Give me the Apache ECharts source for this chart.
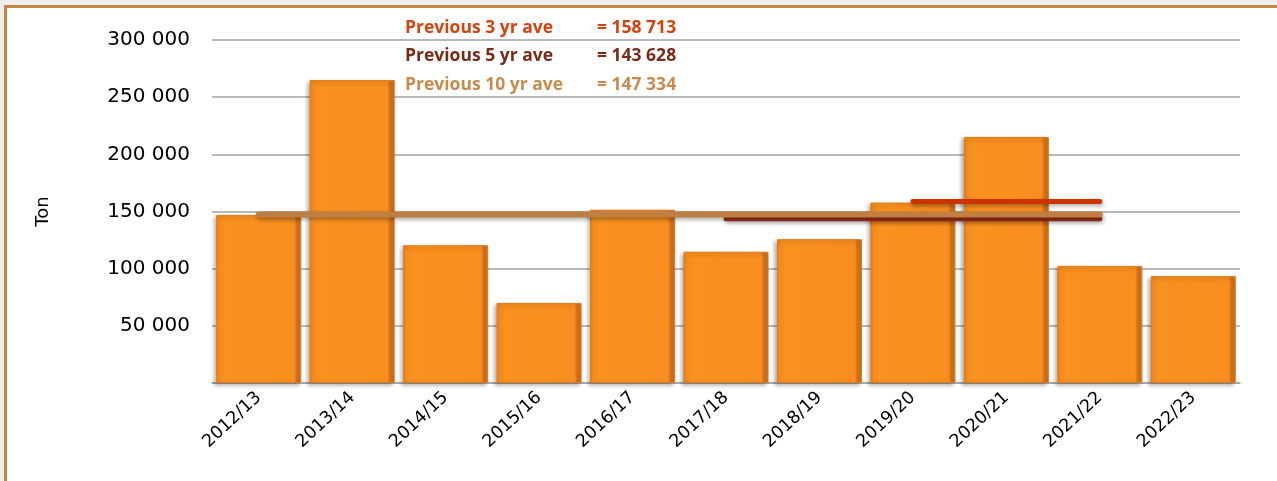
<!DOCTYPE html>
<html>
<head>
<meta charset="utf-8">
<script src="https://cdn.jsdelivr.net/npm/echarts@6/dist/echarts.min.js"></script>
<style>
  html, body { margin: 0; padding: 0; background: #f1efed; overflow: hidden; }
  #frame {
    position: absolute; left: 4px; top: 5px; width: 1300px; height: 500px;
    border-left: 3px solid #c8874a; border-top: 3px solid #c8874a; background: #fff;
  }
  #main { position: absolute; left: 0; top: 0; width: 1277px; height: 481px; }
</style>
</head>
<body>
<div id="frame"></div>
<div id="main"></div>
<script>
// seasons and tonnage
var seasons = ['2012/13', '2013/14', '2014/15', '2015/16', '2016/17', '2017/18',
               '2018/19', '2019/20', '2020/21', '2021/22', '2022/23'];
var tonnes = [147000, 265000, 120500, 70000, 151500, 114800, 125800, 157800, 215200, 102400, 93500];

// averages over the previous seasons (3, 5 and 10 years before 2022/23)
var aveNames = ['Previous 3 yr ave', 'Previous 5 yr ave', 'Previous 10 yr ave'];
var aveValues = [158713, 143628, 147334];
var aveYears = [3, 5, 10];
var aveColors = ['#d6420e', '#7a2b18', '#c98a4c'];
var aveLineColors = ['#cc3300', '#9c2c16', '#bf7f42'];

function spaced(v) {
  return String(v).replace(/\B(?=(\d{3})+(?!\d))/g, ' ');
}

// a line spans the last n seasons before the current one
function aveLine(i) {
  var last = seasons.length - 2;
  return seasons.map(function (s, k) {
    return (k <= last && k > last - aveYears[i]) ? aveValues[i] : null;
  });
}

var myChart = echarts.init(document.getElementById('main'));

var legendText = [];
aveNames.forEach(function (n, i) {
  var top = 19 + i * 28.5;
  legendText.push({
    type: 'text', left: 405, top: top,
    style: { text: n, fill: aveColors[i], font: 'bold 17.5px "Open Sans"' }
  });
  legendText.push({
    type: 'text', left: 597, top: top,
    style: { text: '= ' + spaced(aveValues[i]), fill: aveColors[i], font: 'bold 17.5px "Open Sans"' }
  });
});

var lineOrder = [1, 0, 2]; // 5 yr drawn first, 10 yr on top of it
var lineSeries = lineOrder.map(function (i) {
  return {
    name: aveNames[i],
    type: 'line',
    data: aveLine(i),
    symbol: 'none',
    z: 5 + i,
    lineStyle: {
      color: aveLineColors[i], width: i === 2 ? 6 : 5, cap: 'round',
      shadowColor: 'rgba(0,0,0,0.35)', shadowBlur: 4, shadowOffsetX: 1, shadowOffsetY: 2
    }
  };
});

myChart.setOption({
  animation: false,
  grid: { left: 212, right: 37, top: 40, bottom: 98 },
  graphic: legendText,
  xAxis: {
    type: 'category',
    data: seasons,
    axisTick: { show: false },
    axisLine: { lineStyle: { color: '#a6a6a6', width: 1.5 } },
    axisLabel: {
      rotate: 43, margin: 12, color: '#000',
      fontFamily: 'DejaVu Sans', fontSize: 17.5, interval: 0
    }
  },
  yAxis: {
    type: 'value',
    min: 0, max: 300000, interval: 50000,
    name: 'Ton',
    nameLocation: 'middle',
    nameGap: 160,
    nameTextStyle: { color: '#000', fontFamily: 'DejaVu Sans', fontSize: 18 },
    axisLine: { show: false },
    axisTick: { show: false },
    splitLine: { lineStyle: { color: '#a3a3a3', width: 1.5 } },
    axisLabel: {
      margin: 22, color: '#000', fontFamily: 'DejaVu Sans', fontSize: 20,
      formatter: function (v) { return v === 0 ? '' : spaced(v); }
    }
  },
  series: [{
    name: 'Ton',
    type: 'bar',
    data: tonnes,
    barCategoryGap: '9%',
    z: 2,
    itemStyle: {
      color: new echarts.graphic.LinearGradient(0, 0, 1, 0, [
        { offset: 0, color: '#f0861d' },
        { offset: 0.1, color: '#f8911f' },
        { offset: 0.92, color: '#f88e1f' },
        { offset: 0.94, color: '#d9761b' },
        { offset: 1, color: '#d06f18' }
      ]),
      borderColor: '#e07c1b',
      borderWidth: 1,
      shadowColor: 'rgba(0,0,0,0.3)',
      shadowBlur: 4,
      shadowOffsetX: -2,
      shadowOffsetY: 2
    }
  }].concat(lineSeries)
});
</script>
</body>
</html>
